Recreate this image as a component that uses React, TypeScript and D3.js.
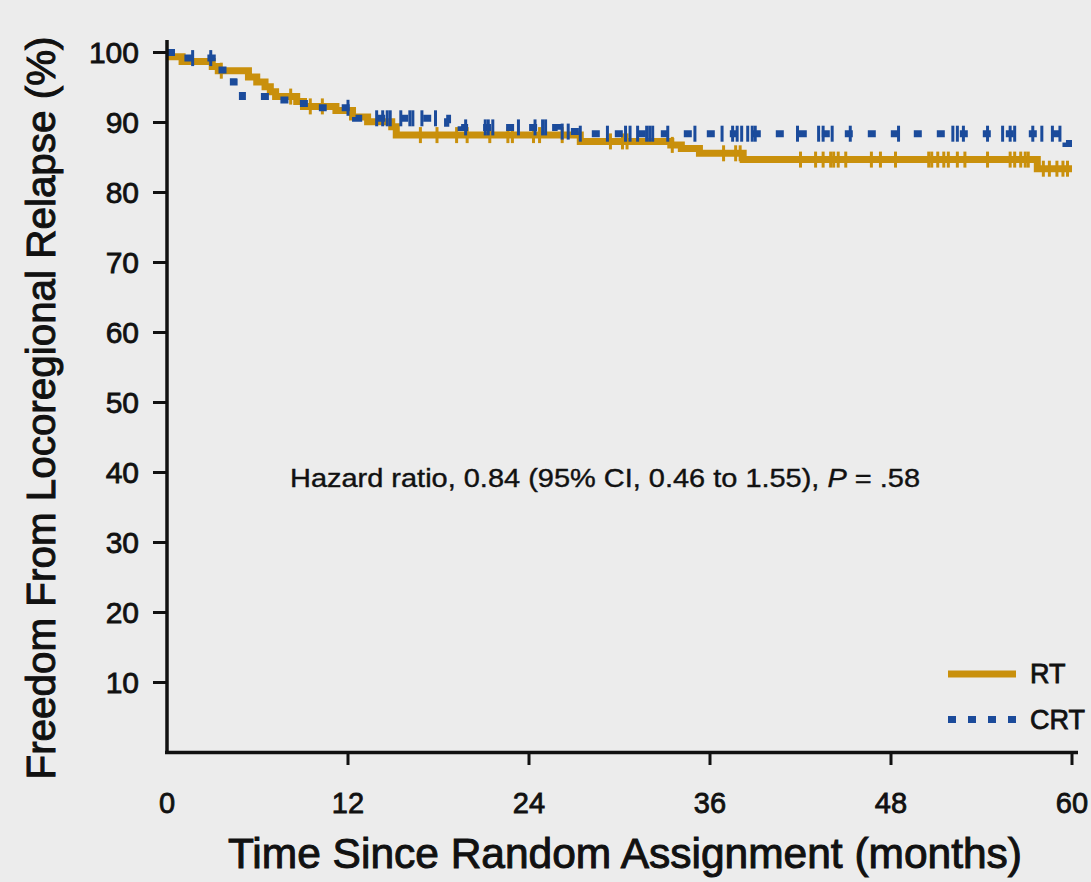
import React, { useEffect, useRef } from "react";
import * as d3 from "d3";

// Kaplan-Meier steps (months, % free from relapse)
const rtTimes = [0, 0.2, 1.0, 3.0, 3.4, 5.4, 5.95, 6.5, 6.85, 7.2, 8.6, 9.05, 11.2, 12.3, 13.3, 14.9, 15.2, 27.4, 33.4, 34.1, 35.3, 38.2, 57.7, 60];
const rtSurv = [100, 99.4, 98.7, 98.0, 97.4, 96.5, 95.8, 95.1, 94.4, 93.7, 93.0, 92.3, 91.7, 90.8, 90.1, 89.4, 88.2, 87.3, 86.8, 86.3, 85.6, 84.7, 83.4, 83.4];

const crtTimes = [0, 0.7, 3.0, 3.4, 4.4, 5.0, 7.4, 8.8, 10.3, 12.5, 18.6, 19.5, 25.9, 27.4, 59.6, 60];
const crtSurv = [100, 99.2, 98.7, 97.5, 95.8, 93.7, 93.2, 92.7, 92.1, 90.6, 89.9, 89.3, 88.7, 88.4, 87.0, 87.0];

// censored observations (months)
const rtCensored = [3.6, 8.2, 9.5, 10.3, 16.8, 17.9, 19.2, 19.9, 21.4, 22.6, 22.9, 24.3, 24.7, 26.2, 29.4, 30.2, 30.5, 33.5, 36.9, 37.7, 38.0, 42.0, 43.0, 43.5, 44.0, 44.2, 44.5, 45.0, 46.7, 47.3, 48.3, 50.5, 50.7, 51.1, 51.5, 51.8, 52.4, 52.9, 54.4, 55.9, 56.2, 56.6, 56.9, 57.1, 58.1, 58.5, 59.0, 59.4, 59.7];
const crtCensored = [1.7, 2.9, 12.0, 13.9, 14.3, 14.6, 14.8, 15.5, 16.1, 16.3, 16.9, 17.8, 19.8, 21.1, 21.3, 21.6, 23.3, 24.4, 24.9, 25.1, 26.2, 26.6, 27.4, 29.2, 30.4, 30.7, 31.2, 31.8, 32.0, 32.2, 33.2, 35.0, 36.8, 37.5, 37.8, 38.1, 38.5, 38.8, 39.0, 41.8, 43.2, 43.5, 44.1, 45.3, 48.5, 52.1, 52.4, 52.8, 54.4, 55.4, 55.9, 56.2, 57.4, 58.0, 58.7, 59.2];

const xTicks = [0, 12, 24, 36, 48, 60];
const yTicks = [10, 20, 30, 40, 50, 60, 70, 80, 90, 100];
const seriesNames = ["RT", "CRT"];

const GOLD = "#C9900C";
const BLUE = "#1B4B9B";
const FONT = "'Liberation Sans', Arial, sans-serif";
const INK = "#111";

const App: React.FC = () => {
    const svgRef = useRef<SVGSVGElement>(null);
    const W = 1091;
    const H = 882;

    useEffect(() => {
        if (!svgRef.current) return;
        const svg = d3.select(svgRef.current);
        svg.selectAll("*").remove();

        svg.append("rect").attr("width", W).attr("height", H).attr("fill", "#ECECEC");

        const x = d3.scaleLinear().domain([0, 60]).range([167, 1072]);
        const y = d3.scaleLinear().domain([0, 100]).range([752.5, 52.5]);

        // step value lookup so censor marks sit on their curve
        const valueAt = (times: number[], surv: number[], t: number) => {
            const i = d3.bisectRight(times, t) - 1;
            return surv[Math.max(0, i)];
        };

        const line = d3
            .line<[number, number]>()
            .x((d) => x(d[0]))
            .y((d) => y(d[1]))
            .curve(d3.curveStepAfter);

        const drawSeries = (
            times: number[],
            surv: number[],
            censored: number[],
            color: string,
            dash: string | null
        ) => {
            svg.append("path")
                .attr("d", line(times.map((t, i) => [t, surv[i]]) as [number, number][]))
                .attr("fill", "none")
                .attr("stroke", color)
                .attr("stroke-width", 7)
                .attr("stroke-dasharray", dash);

            svg.append("g")
                .selectAll("line")
                .data(censored)
                .enter()
                .append("line")
                .attr("x1", (d) => x(d))
                .attr("x2", (d) => x(d))
                .attr("y1", (d) => y(valueAt(times, surv, d)) - 8)
                .attr("y2", (d) => y(valueAt(times, surv, d)) + 8)
                .attr("stroke", color)
                .attr("stroke-width", 3);
        };

        drawSeries(rtTimes, rtSurv, rtCensored, GOLD, null);
        drawSeries(crtTimes, crtSurv, crtCensored, BLUE, "8 15"); // dashed CRT on top

        // medium-weight look: regular glyphs with a thin outline
        const medium = (sel: any, w: number) =>
            sel.attr("stroke", INK).attr("stroke-width", w).attr("paint-order", "stroke");

        // axes
        svg.append("line")
            .attr("x1", 167).attr("x2", 167).attr("y1", 40).attr("y2", 754)
            .attr("stroke", INK).attr("stroke-width", 3.5);
        svg.append("line")
            .attr("x1", 165).attr("x2", 1078).attr("y1", 752.5).attr("y2", 752.5)
            .attr("stroke", INK).attr("stroke-width", 3.5);

        const yg = svg.append("g");
        yg.selectAll("line")
            .data(yTicks)
            .enter()
            .append("line")
            .attr("x1", 153).attr("x2", 167)
            .attr("y1", (d) => y(d)).attr("y2", (d) => y(d))
            .attr("stroke", INK).attr("stroke-width", 3);
        medium(
            yg.selectAll("text")
                .data(yTicks)
                .enter()
                .append("text")
                .attr("x", 139)
                .attr("y", (d) => y(d))
                .attr("dy", "0.36em")
                .attr("text-anchor", "end")
                .attr("font-family", FONT)
                .attr("font-size", 30)
                .attr("fill", INK)
                .text((d) => d),
            0.8
        );

        const xg = svg.append("g");
        xg.selectAll("line")
            .data(xTicks.filter((d) => d > 0))
            .enter()
            .append("line")
            .attr("x1", (d) => x(d)).attr("x2", (d) => x(d))
            .attr("y1", 752).attr("y2", 765)
            .attr("stroke", INK).attr("stroke-width", 3);
        medium(
            xg.selectAll("text")
                .data(xTicks)
                .enter()
                .append("text")
                .attr("x", (d) => x(d))
                .attr("y", 813)
                .attr("text-anchor", "middle")
                .attr("font-family", FONT)
                .attr("font-size", 29)
                .attr("fill", INK)
                .text((d) => d),
            0.8
        );

        // axis titles
        medium(
            svg.append("text")
                .attr("x", 625)
                .attr("y", 868)
                .attr("text-anchor", "middle")
                .attr("font-family", FONT)
                .attr("font-size", 43)
                .attr("fill", INK)
                .attr("textLength", 794)
                .attr("lengthAdjust", "spacingAndGlyphs")
                .text("Time Since Random Assignment (months)"),
            1
        );

        medium(
            svg.append("text")
                .attr("transform", "translate(55,408) rotate(-90)")
                .attr("text-anchor", "middle")
                .attr("font-family", FONT)
                .attr("font-size", 41)
                .attr("fill", INK)
                .attr("textLength", 743)
                .attr("lengthAdjust", "spacingAndGlyphs")
                .text("Freedom From Locoregional Relapse (%)"),
            1
        );

        // hazard ratio note
        const note = svg.append("text")
            .attr("x", 290)
            .attr("y", 487)
            .attr("font-family", FONT)
            .attr("font-size", 26)
            .attr("fill", INK)
            .attr("textLength", 630)
            .attr("lengthAdjust", "spacingAndGlyphs");
        medium(note, 0.4);
        note.append("tspan").text("Hazard ratio, 0.84 (95% CI, 0.46 to 1.55), ");
        note.append("tspan").attr("font-style", "italic").text("P");
        note.append("tspan").text(" = .58");

        // legend
        const legend = svg.append("g");
        const legendRows = [
            { name: seriesNames[0], color: GOLD, dash: null, y: 674 },
            { name: seriesNames[1], color: BLUE, dash: "8 12", y: 719.5 },
        ];
        legendRows.forEach((r) => {
            legend.append("line")
                .attr("x1", 948).attr("x2", 1016)
                .attr("y1", r.y).attr("y2", r.y)
                .attr("stroke", r.color)
                .attr("stroke-width", 7)
                .attr("stroke-dasharray", r.dash);
            medium(
                legend.append("text")
                    .attr("x", 1030)
                    .attr("y", r.y + 9)
                    .attr("font-family", FONT)
                    .attr("font-size", 27)
                    .attr("fill", INK)
                    .text(r.name),
                0.8
            );
        });
    }, []);

    return (
        <svg
            ref={svgRef}
            width={W}
            height={H}
            style={{ position: "absolute", left: 0, top: 0 }}
        />
    );
};

export default App;
